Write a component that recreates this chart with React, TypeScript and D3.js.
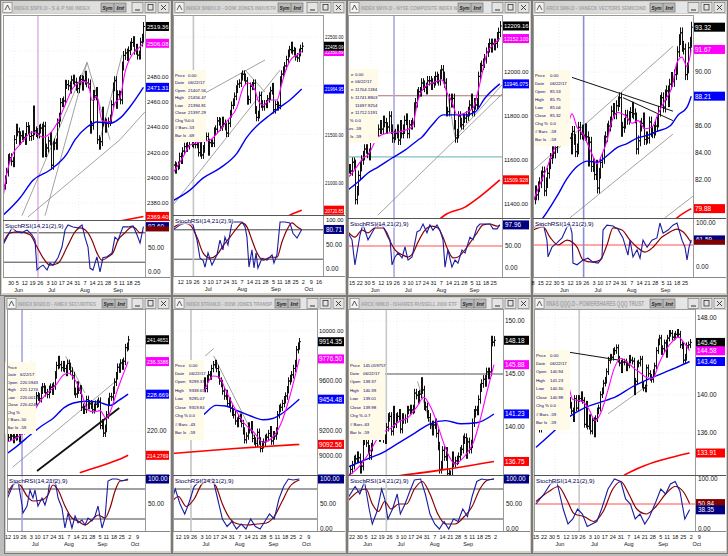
import React from "react";
import * as d3 from "d3";

type P = [number, number];

// ---------------- calendar (trading-day index, 0 = 22 May 2017) ----------------
const weekTickDays = [-10, -5, 0, 5, 9, 14, 19, 24, 29, 33, 38, 43, 48, 53, 58, 63, 68, 73, 77, 82, 87, 92, 97, 102];
const weekTickLabels = ["8", "15", "22", "30", "5", "12", "19", "26", "3", "10", "17", "24", "31", "7", "14", "21", "28", "5", "11", "18", "25", "2", "9", "16"];
const monthDays = [10, 31.5, 53, 74.5, 95.5];
const monthLabels = ["Jun", "Jul", "Aug", "Sep", "Oct"];

// ---------------- S&P 500 ----------------
const spxCloses = [2394.0, 2398.4, 2404.4, 2415.1, 2415.8, 2412.9, 2411.8,
  2430.1, 2439.1, 2436.1, 2429.3, 2433.1, 2433.8, 2431.8, 2429.4, 2440.4, 2437.9, 2432.5, 2433.2, 2453.5, 2437.0, 2435.6, 2434.5, 2438.3, 2439.1, 2419.4, 2440.7, 2419.7, 2423.4,
  2429.0, 2432.5, 2409.8, 2425.2, 2427.4, 2425.5, 2443.3, 2447.8, 2459.3, 2459.1, 2460.6, 2473.8, 2473.5, 2472.5, 2469.9, 2477.1, 2477.8, 2475.4, 2472.1, 2470.3,
  2476.4, 2477.6, 2472.2, 2476.8, 2480.9, 2474.9, 2474.0, 2438.2, 2441.3, 2465.8, 2464.6, 2468.1, 2430.0, 2425.6, 2428.4, 2452.5, 2444.0, 2439.0, 2443.1, 2444.2, 2446.3, 2457.6, 2471.7,
  2476.6, 2457.9, 2465.5, 2465.1, 2461.4, 2488.1, 2496.5, 2498.4, 2495.6, 2500.2, 2503.9, 2506.7, 2508.2, 2500.6, 2502.2, 2496.7, 2496.8, 2507.0, 2510.1, 2519.36];
const spxMag: P[] = [[-0.2, 2384], [2.4, 2404], [6.3, 2419], [10.8, 2426], [19.3, 2436], [25.8, 2432], [30.3, 2435], [34.9, 2443], [41.4, 2461], [45.3, 2471], [51.8, 2476], [55, 2475], [57.6, 2461], [60.8, 2464], [64.1, 2445], [69.3, 2444], [72.5, 2459], [75.8, 2463], [79, 2483], [83.6, 2497], [86.8, 2501], [91, 2506.08]];
const spxBlue: P[] = [[-0.5, 2370], [10.8, 2384], [19.3, 2398], [30.3, 2406], [41.4, 2419], [46.6, 2430], [54.4, 2440], [60.8, 2444], [69.3, 2443], [75.8, 2447], [82.3, 2456], [91, 2471.31]];
const spxRed: P[] = [[60, 2362], [91, 2369.4]];
const spxK: P[] = [[-0.2, 55], [2.4, 71], [5.6, 90], [8.9, 82], [12.1, 80], [15.4, 86], [18.6, 76], [20.6, 65], [21.9, 4], [23.8, 10], [25.8, 14], [28.4, 4], [30.3, 18], [32.3, 14], [35.5, 29], [38.1, 51], [40.1, 86], [42, 96], [45.3, 92], [48.5, 90], [51.1, 96], [53, 71], [55, 51], [56.3, 8], [58.2, 4], [60.8, 31], [62.8, 0], [64.7, 29], [67.3, 31], [70.6, 39], [72.5, 71], [74.5, 65], [77.7, 92], [81, 92], [84.3, 94], [86.8, 76], [88.8, 59], [91, 92.6]];
const spxD: P[] = [[-0.2, 59], [4.4, 80], [10.8, 82], [17.3, 76], [21.9, 51], [25.8, 29], [30.3, 14], [35.5, 18], [41.4, 51], [46.6, 82], [49.8, 90], [54.4, 82], [57.6, 65], [60.8, 39], [64.1, 24], [68, 31], [71.2, 39], [74.5, 65], [79, 80], [83.6, 92], [85.5, 90], [88.8, 80], [91, 82]];

// ---------------- Dow Jones Industrials ----------------
const djiCloses = [21184, 21136, 21173, 21182, 21272, 21235, 21328, 21374, 21360, 21384, 21528, 21467, 21410, 21397, 21395, 21409, 21311, 21454, 21288, 21350,
  21479, 21478, 21320, 21414, 21409, 21409, 21532, 21553, 21638, 21630, 21575, 21641, 21612, 21580, 21513, 21613, 21711, 21797, 21830, 21891,
  21964, 22016, 22026, 22092, 22118, 22085, 22048, 21844, 21858, 21993, 21998, 22024, 21750, 21674, 21703, 21899, 21812, 21783, 21813, 21808, 21865, 21892, 21948,
  21988, 21753, 21807, 21784, 21797, 22057, 22118, 22158, 22203, 22268, 22331, 22370, 22412, 22359, 22349, 22296, 22284, 22341, 22381, 22405.09];
const djiMag: P[] = [[9, 21102], [15.4, 21267], [19.8, 21390], [26, 21420], [32.6, 21441], [38.9, 21544], [44, 21647], [49.8, 21780], [53.6, 21976], [56.8, 22027], [61.2, 21955], [63.1, 21853], [66.3, 21801], [70.8, 21853], [75.2, 21853], [78.4, 22027], [81.6, 22192], [84.8, 22284], [88, 22315], [91, 22350.89]];
const djiBlue: P[] = [[8, 20810], [19.8, 20927], [28.1, 21050], [38.9, 21153], [49.8, 21307], [56.1, 21472], [64.4, 21616], [70.8, 21698], [77.2, 21780], [83.5, 21853], [91, 21964.95]];
const djiRed: P[] = [[80, 20640], [86, 20690], [91, 20720.85]];
const djiK: P[] = [[9, 80], [13.5, 90], [18.6, 96], [21.7, 90], [24.3, 59], [26.2, 22], [28.1, 18], [29.4, 4], [31.3, 33], [33.8, 8], [37, 29], [38.9, 59], [40.8, 39], [42.1, 65], [44, 49], [46.6, 96], [49.8, 96], [53, 96], [54.9, 86], [56.1, 65], [57.4, 4], [59.3, 39], [60.6, 2], [61.9, 33], [63.1, 2], [65.7, 22], [68.9, 18], [72.1, 29], [73.3, 12], [75.2, 29], [77.2, 96], [80.3, 96], [83.5, 94], [85.4, 73], [88, 63], [91, 80.71]];
const djiD: P[] = [[9, 84], [15.4, 94], [19.8, 90], [24.3, 65], [28.1, 33], [32.6, 22], [37, 29], [40.8, 47], [45.3, 65], [49.8, 84], [53, 94], [56.1, 86], [59.3, 59], [62.5, 33], [66.3, 18], [70.8, 24], [75.2, 24], [78.4, 55], [81.6, 80], [84.8, 94], [88, 86], [91, 80]];

// ---------------- NYSE Composite ----------------
const nyaCloses = [11560, 11550, 11590, 11580, 11420, 11460, 11530,
  11570, 11600, 11620, 11650, 11650, 11630, 11620,
  11700, 11740, 11730, 11720, 11730, 11740, 11760, 11740, 11780, 11770, 11740, 11750, 11800, 11740, 11700, 11712, 11720, 11740, 11690, 11760, 11720, 11740,
  11780, 11790, 11720, 11760, 11760, 11770, 11840, 11860, 11900, 11910, 11910, 11950, 11940, 11930, 11920, 11960, 11960, 11940, 11950, 11960,
  11980, 11970, 11960, 11990, 12010, 11980, 11950, 11820, 11820, 11880, 11860, 11880, 11760, 11700, 11720, 11800, 11770, 11760, 11790, 11790, 11800, 11820, 11850,
  11880, 11820, 11860, 11850, 11860, 11980, 12020, 12030, 12040, 12060, 12090, 12110, 12130, 12110, 12130, 12120, 12130, 12160, 12180, 12209.16];
const nyaMag: P[] = [[-7.6, 11520], [-4.4, 11545], [-1.1, 11577], [2.1, 11609], [5.4, 11623], [11.9, 11705], [18.4, 11723], [24.9, 11727], [34, 11750], [37.9, 11873], [42.4, 11932], [48.9, 11955], [53.4, 11964], [56.7, 11905], [59.9, 11864], [63.2, 11805], [68.4, 11814], [73.6, 11836], [78.1, 11950], [82.7, 12086], [86.6, 12123], [91, 12152.1]];
const nyaBlue: P[] = [[-7.6, 11464], [-1.1, 11500], [5.4, 11541], [11.9, 11568], [21, 11609], [29.4, 11645], [37.9, 11691], [40.5, 11705], [47, 11759], [54.1, 11805], [61.9, 11805], [68.4, 11805], [74.9, 11818], [81.4, 11882], [91, 11946.075]];
const nyaRed: P[] = [[50, 11320], [55.4, 11350], [68.4, 11386], [76.8, 11427], [91, 11509.928]];
const nyaK: P[] = [[-7.6, 80], [-5, 64], [-3.1, 7], [0.2, 75], [2.1, 100], [5.4, 64], [8, 80], [11.2, 100], [14.5, 98], [17.7, 80], [19.7, 64], [21, 7], [22.9, 25], [24.9, 34], [27.5, 23], [29.4, 48], [31.4, 18], [34, 25], [37.2, 82], [39.2, 86], [41.1, 100], [43.7, 80], [45.6, 98], [47.6, 86], [50.2, 98], [52.1, 86], [54.1, 64], [55.4, 2], [57.3, 41], [59.9, 2], [61.9, 18], [63.8, 11], [66.4, 41], [68.4, 34], [71.6, 70], [73.6, 64], [76.2, 93], [78.1, 100], [81.4, 100], [84.6, 100], [86.6, 89], [89.2, 89], [91, 97.96]];
const nyaD: P[] = [[-7.6, 82], [-3.1, 70], [1.5, 86], [5.4, 80], [9.9, 91], [15.1, 91], [18.4, 70], [22.9, 41], [27.5, 30], [31.4, 25], [34.6, 34], [37.9, 59], [42.4, 86], [47, 95], [50.8, 91], [54.1, 70], [57.3, 41], [60.6, 23], [63.8, 25], [67.1, 36], [71.6, 57], [76.2, 80], [80.1, 98], [84.6, 100], [89.2, 95], [91, 98]];

// ---------------- VanEck Semiconductor SMH ----------------
const smhCloses = [80.6, 81.2, 80.9, 81.5, 81.8, 82.3, 82.6, 81.2, 81.8, 82.5,
  83.2, 83.6, 84.1, 84.0, 84.4, 84.9, 85.1,
  86.6, 88.0, 88.6, 88.9, 89.2, 89.4, 85.1, 84.3, 85.6, 85.0, 84.1, 84.3, 85.9, 85.4, 85.7, 85.32, 85.8, 85.2, 83.4, 84.8, 83.0, 83.2,
  82.4, 83.1, 81.4, 82.5, 83.3, 83.6, 84.9, 85.2, 85.8, 86.0, 86.3, 87.1, 87.3, 86.9, 87.5, 87.8, 88.1, 85.6, 85.9, 86.2,
  86.8, 86.5, 86.7, 87.0, 87.4, 86.9, 86.6, 84.3, 84.9, 86.0, 86.2, 86.6, 85.0, 85.2, 85.1, 86.3, 85.6, 85.5, 85.7, 86.0, 86.3, 87.1, 87.9,
  88.1, 87.4, 88.3, 88.6, 87.8, 89.1, 89.6, 89.3, 89.8, 90.2, 91.5, 92.4, 92.9, 91.9, 91.7, 89.8, 90.3, 91.8, 92.2, 93.32];
const smhMag: P[] = [[-10, 80.4], [-5.5, 81.7], [-1.1, 82.9], [2.8, 84.1], [6, 84.9], [11.7, 85.9], [14.9, 86.9], [18.1, 85.9], [21.9, 85.4], [27.7, 83.9], [30.8, 83.2], [34, 83.9], [37.2, 84.9], [40.4, 86.4], [44.2, 87.0], [48.7, 86.8], [53.2, 86.2], [57, 86.4], [61.5, 85.8], [65.9, 85.9], [69.8, 86.9], [74.2, 87.9], [78.7, 88.9], [81.9, 90.7], [85.1, 91.1], [88.3, 90.4], [91, 91.67]];
const smhBlue: P[] = [[-5, 79.0], [-3.6, 79.2], [5.3, 80.8], [11.7, 82.1], [18.1, 83.0], [25.1, 83.4], [30.8, 83.3], [37.2, 83.8], [43.6, 84.4], [50, 84.7], [56.4, 85.1], [62.8, 85.3], [69.1, 85.6], [77.4, 86.0], [82.5, 86.8], [88.3, 87.4], [91, 88.21]];
const smhRed: P[] = [[79, 78.9], [81.9, 79.2], [91, 79.88]];
const smhK: P[] = [[-10, 89], [-6.8, 95], [-3.6, 100], [-1.1, 61], [-0.4, 23], [2.1, 45], [5.3, 55], [8.5, 66], [11.7, 91], [13.6, 95], [14.9, 77], [15.5, 9], [18.1, 5], [21.9, 16], [25.1, 20], [28.3, 11], [31.5, 9], [34, 20], [34.7, 84], [37.2, 95], [41.1, 93], [44.2, 86], [47.4, 66], [50.6, 27], [51.9, 61], [53.8, 23], [56.4, 39], [58.3, 20], [60.2, 61], [62.8, 45], [65.9, 61], [69.1, 66], [71, 100], [73, 77], [76.2, 84], [79.3, 95], [81.9, 100], [85.1, 61], [87, 45], [88.3, 16], [89.6, 45], [91, 61.59]];
const smhD: P[] = [[-10, 84], [-3.6, 91], [0.8, 68], [6, 50], [11.7, 61], [18.1, 45], [21.9, 16], [27.7, 11], [32.8, 16], [37.2, 50], [41.1, 89], [46.8, 84], [51.9, 61], [56.4, 45], [61.5, 34], [66.6, 45], [72.3, 68], [76.2, 77], [81.9, 86], [85.7, 80], [91, 55]];

// ---------------- AMEX Securities Broker/Dealer XBD ----------------
const xbdCloses = [218.5, 219.2, 218.8, 218.0, 218.6, 219.8, 218.7, 218.2, 220.4, 220.1, 220.9, 221.5, 224.6, 226.8, 227.3,
  228.4, 228.9, 227.1, 228.3, 228.0, 227.6, 229.6, 230.4, 229.8, 229.0, 228.6, 229.8, 230.3, 229.4, 230.6, 233.2, 235.4, 236.8, 235.6, 234.9,
  235.6, 234.7, 233.8, 235.9, 235.2, 234.1, 233.0, 229.3, 228.7, 230.8, 229.6, 229.9, 225.6, 224.9, 225.1, 227.4, 226.0, 226.4, 226.1, 225.0, 225.6, 226.3, 226.5,
  227.0, 221.3, 221.9, 219.5, 220.6, 223.8, 226.9, 228.1, 228.0, 229.6, 231.5, 233.0, 235.0, 234.6, 236.0, 235.3, 236.4, 239.6, 239.9, 241.4651];
const xbdMag: P[] = [[13, 217.3], [20, 218.5], [26, 220.5], [32, 225.5], [38, 228.5], [44, 230.5], [50, 233.3], [53, 233.6], [57, 232], [61, 229], [65, 225], [69, 224.5], [73, 224.8], [77, 223], [80, 225], [84, 229.5], [88, 233.5], [91, 236.3386]];
const xbdBlue: P[] = [[13.4, 214.7], [20, 216.5], [28, 219], [36, 221.3], [43, 223], [50, 225.5], [56, 226.6], [64, 227], [72, 226.8], [79.4, 226], [85, 227.2], [91, 228.669]];
const xbdRed: P[] = [[60, 210.2], [63.4, 210.6], [72, 211.6], [80, 212.6], [86, 213.4], [91, 214.2769]];
const xbdK: P[] = [[13.4, 60], [17.2, 88], [20.4, 96], [23, 48], [23.6, 32], [26.2, 46], [28.1, 78], [30, 62], [31.3, 78], [33.2, 46], [35.8, 62], [37.7, 48], [39.6, 68], [40.9, 98], [44.1, 98], [46.1, 62], [48.6, 42], [50.5, 2], [52.5, 32], [55, 2], [57, 26], [58.9, 12], [61.4, 18], [63.4, 8], [65.3, 22], [67.8, 16], [69.8, 26], [71.7, 46], [74.3, 2], [76.2, 22], [78.1, 96], [80.7, 100], [83.9, 100], [87.1, 96], [91, 100]];
const xbdD: P[] = [[13.4, 68], [18.5, 92], [21.7, 88], [26.2, 66], [30, 56], [35.8, 58], [39.6, 68], [42.8, 88], [46.1, 78], [50.5, 46], [55, 22], [58.9, 16], [63.4, 8], [67.8, 18], [71.7, 28], [76.2, 22], [79.4, 42], [82.6, 76], [85.8, 96], [91, 98]];

// ---------------- Dow Jones Transports ----------------
const tranCloses = [9200, 9180, 9230, 9260, 9300, 9280, 9330, 9300, 9250, 9270, 9380, 9330, 9290, 9319.84, 9340, 9360, 9330, 9420, 9460, 9480,
  9560, 9600, 9540, 9620, 9650, 9640, 9700, 9730, 9740, 9700, 9650, 9600, 9580, 9520, 9480, 9500, 9420, 9440, 9380, 9350,
  9330, 9280, 9260, 9300, 9310, 9260, 9200, 9130, 9160, 9240, 9210, 9250, 9140, 9120, 9100, 9190, 9120, 9060, 9090, 9110, 9140, 9150, 9180,
  9210, 9120, 9170, 9160, 9200, 9330, 9380, 9390, 9420, 9450, 9480, 9530, 9600, 9620, 9650, 9700, 9740, 9850, 9880, 9914.35];
const tranMag: P[] = [[9, 9230], [20, 9290], [29, 9480], [36, 9640], [40, 9630], [44, 9530], [50, 9380], [56, 9260], [62, 9190], [68, 9110], [74, 9150], [80, 9280], [85, 9480], [91, 9776.5]];
const tranBlue: P[] = [[10, 9200], [22, 9250], [30, 9330], [38, 9405], [44, 9400], [52, 9360], [60, 9320], [68, 9290], [74, 9300], [80, 9340], [86, 9400], [91, 9454.48]];
const tranRed: P[] = [[10, 9020], [50, 9060], [91, 9092.56]];
const tranK: P[] = [[10, 60], [12, 80], [15, 50], [18, 30], [21, 55], [24, 85], [27, 95], [30, 100], [33, 98], [36, 100], [39, 60], [42, 20], [45, 5], [48, 15], [51, 0], [54, 10], [57, 0], [60, 20], [63, 5], [66, 0], [69, 15], [72, 30], [75, 20], [78, 60], [81, 85], [84, 100], [87, 98], [91, 100]];
const tranD: P[] = [[10, 55], [14, 65], [19, 45], [24, 60], [29, 90], [34, 98], [38, 85], [42, 50], [47, 20], [52, 10], [58, 8], [64, 10], [70, 12], [75, 25], [80, 55], [85, 85], [91, 98]];

// ---------------- iShares Russell 2000 IWM ----------------
const iwmCloses = [135.2, 136.0,
  136.4, 136.9, 137.0, 137.3, 137.1, 136.0, 136.3,
  138.7, 139.1, 138.5, 137.9, 137.3, 138.1, 140.4, 139.6, 140.1, 139.5, 139.0, 139.4, 140.5, 138.9, 138.8, 139.98, 140.9, 141.0, 139.6, 141.6, 140.3, 140.9,
  141.0, 141.3, 139.8, 140.9, 140.7, 140.8, 141.6, 141.6, 141.7, 141.6, 141.7, 143.2, 143.0, 142.6, 143.1, 144.3, 143.5, 142.0, 141.9, 141.2,
  140.9, 140.2, 139.6, 140.2, 140.4, 139.4, 138.2, 136.0, 136.4, 137.8, 137.2, 137.7, 135.6, 135.5, 135.3, 137.3, 136.6, 136.8, 136.9, 137.2, 137.7, 137.9, 138.8,
  139.0, 137.4, 138.6, 137.9, 138.4, 140.4, 141.3, 141.6, 141.5, 142.6, 143.7, 144.1, 144.5, 144.2, 145.2, 144.9, 145.2, 148.2, 148.0, 148.18];
const iwmMag: P[] = [[-3, 135.3], [6, 136.5], [12, 137.8], [18, 139.3], [24, 139.8], [30, 140.5], [36, 140.9], [42, 142.0], [46, 142.8], [50, 142.0], [54, 140.6], [58, 138.8], [62, 137.3], [66, 136.5], [70, 136.9], [74, 137.6], [78, 138.6], [82, 140.6], [86, 143.0], [91, 145.88]];
const iwmBlue: P[] = [[-3, 136.2], [10, 137.0], [20, 137.6], [30, 138.5], [40, 139.4], [50, 140.3], [60, 140.6], [70, 140.3], [80, 140.4], [91, 141.23]];
const iwmRed: P[] = [[30, 135.4], [60, 136.0], [91, 136.75]];
const iwmK: P[] = [[-3, 60], [2, 85], [5, 70], [8, 95], [11, 40], [13, 10], [16, 35], [19, 80], [21, 60], [23, 20], [26, 40], [29, 70], [31, 30], [34, 50], [37, 75], [40, 98], [44, 100], [47, 70], [50, 30], [53, 10], [56, 0], [59, 15], [62, 0], [65, 20], [68, 15], [71, 40], [74, 25], [77, 65], [80, 95], [83, 100], [87, 98], [91, 100]];
const iwmD: P[] = [[-3, 55], [4, 75], [9, 80], [13, 50], [17, 35], [21, 55], [25, 40], [30, 50], [35, 50], [40, 80], [45, 95], [50, 70], [55, 30], [60, 10], [66, 10], [72, 25], [77, 45], [82, 80], [87, 98], [91, 100]];

// ---------------- PowerShares QQQ ----------------
const qqqCloses = [139.5, 139.9, 136.4, 137.6, 138.4,
  139.6, 139.8, 140.6, 141.7, 141.9, 141.8, 141.2,
  142.3, 143.6, 143.5, 142.9, 143.5, 143.7, 138.9, 138.1, 139.4, 138.9, 138.3, 137.5, 139.6, 138.6, 139.6, 139.6, 140.0, 139.4, 136.9, 139.0, 136.7, 137.6,
  136.2, 137.3, 135.9, 137.5, 138.3, 138.6, 140.0, 140.4, 141.2, 141.5, 142.4, 143.6, 143.9, 143.9, 144.5, 144.6, 144.9, 143.7, 143.3, 142.6,
  143.4, 143.4, 142.8, 143.1, 143.8, 143.6, 143.5, 140.3, 141.4, 143.2, 143.3, 143.7, 141.0, 140.7, 140.6, 142.8, 142.2, 141.8, 141.6, 142.3, 143.0, 144.6, 145.5,
  145.9, 144.5, 144.8, 145.4, 144.2, 145.9, 146.4, 146.4, 146.0, 146.1, 146.3, 146.5, 146.3, 145.2, 145.1, 143.6, 143.9, 145.1, 145.2, 145.45];
const qqqMag: P[] = [[-5, 139.6], [0, 139.0], [5, 140.5], [10, 142.5], [14, 141.8], [18, 139.5], [24, 139.3], [28, 138.5], [32, 137.3], [36, 138.3], [40, 140.5], [44, 142.8], [48, 143.8], [52, 143.4], [56, 142.8], [60, 142.3], [64, 141.8], [68, 141.7], [72, 143.3], [76, 144.6], [80, 145.5], [84, 146.0], [88, 145.3], [91, 144.58]];
const qqqBlue: P[] = [[-5, 134.5], [5, 136.0], [15, 137.6], [25, 138.6], [35, 139.2], [45, 139.8], [55, 140.8], [65, 141.6], [75, 142.3], [85, 143.0], [91, 143.46]];
const qqqRed: P[] = [[50, 131.6], [60, 132.4], [91, 133.91]];
const qqqK: P[] = [[-5, 50], [0, 70], [4, 90], [8, 95], [12, 40], [15, 10], [18, 20], [21, 40], [24, 30], [27, 5], [30, 10], [33, 15], [36, 40], [40, 80], [44, 100], [48, 95], [51, 60], [54, 50], [57, 20], [60, 30], [63, 10], [66, 25], [70, 55], [73, 80], [76, 70], [79, 90], [82, 95], [85, 75], [88, 20], [91, 38.35]];
const qqqD: P[] = [[-5, 55], [3, 75], [9, 85], [14, 60], [19, 30], [25, 25], [31, 15], [37, 35], [43, 80], [48, 95], [53, 70], [58, 40], [64, 30], [70, 45], [76, 70], [82, 85], [87, 75], [91, 50.84]];

// ---------------- panel configuration ----------------
interface Seg { a: P; b: P; color: string; w: number }
interface Box { v: number; text: string; fill: string; color?: string }
interface Info { x: number; y: number; w: number; h: number; vx: number; rows: string[][]; rightLabels?: boolean }
interface Cfg {
  id: string; title: string; titleW: number; symX: number;
  fx: number; fy: number; fw: number; fh: number;
  pl: number; pr: number; ar: number;
  pt: number; pb: number; sb: number;
  xPx: number; xIdx: number; k: number; tickMin: number; tickMax: number;
  yc: [number, number, number, number];
  s100: number; s0: number;
  start: number; closes: number[]; pad: number;
  mag: P[]; blue: P[]; red: P[];
  segs: Seg[]; hl: { v: number; color: string; from?: number }[];
  ticks: number[];
  boxes: Box[];
  sLines: { v: number; color: string }[];
  sTicks: number[];
  sk: P[]; sd: P[]; sBoxes: Box[];
  info?: Info;
  cursor: number; cursorColor: string;
}

const G = "#8a8a8a";
const gray = (a: P, b: P): Seg => ({ a, b, color: G, w: 0.8 });
const blk = (a: P, b: P, w = 1): Seg => ({ a, b, color: "#111", w });

const rowLabels = ["Price", "Date", "Open", "High", "Low", "Close", "Chg %", "# Bars", "Bar Ix"];
const rows = (vals: string[], labels = rowLabels) => labels.map((l, i) => [l, vals[i]]);

const panels: Cfg[] = [
  {
    id: "spx", title: "INDEX $SPX.D - S & P 500 INDEX", titleW: 76, symX: 101,
    fx: 0, fy: 0, fw: 172, fh: 296, pl: 3, pr: 145, ar: 170, pt: 15, pb: 220, sb: 277,
    xPx: 11, xIdx: 5, k: 1.54, tickMin: 6, tickMax: 143, yc: [2500, 51, 2380, 203], s100: 223, s0: 272,
    start: 0, closes: spxCloses, pad: 3.5, mag: spxMag, blue: spxBlue, red: spxRed,
    segs: [gray([12.1, 2370], [54.4, 2491]), gray([27.1, 2370], [54.4, 2491]), gray([54.4, 2491], [69.3, 2430]), gray([16, 2369], [75.8, 2430]), gray([62.8, 2430], [77.1, 2497]), gray([75.8, 2430], [92, 2452])],
    hl: [], ticks: [2380, 2400, 2420, 2440, 2460, 2480, 2500],
    boxes: [{ v: 2519.36, text: "2519.36", fill: "#000" }, { v: 2506.08, text: "2506.08", fill: "#ff00ff" }, { v: 2471.31, text: "2471.31", fill: "#0000ff" }, { v: 2369.4, text: "2369.40", fill: "#ff0000" }],
    sLines: [{ v: 80, color: "#444" }, { v: 20, color: "#444" }], sTicks: [100, 50, 0],
    sk: spxK, sd: spxD, sBoxes: [{ v: 92.6, text: "92.60", fill: "#000080" }, { v: 84, text: "", fill: "#800000" }],
    cursor: 22.5, cursorColor: "#e2b4ec",
  },
  {
    id: "dji", title: "INDEX $INDU.D - DOW JONES INDUSTR", titleW: 90, symX: 278,
    fx: 172, fy: 0, fw: 175, fh: 296, pl: 173, pr: 323, ar: 345, pt: 15, pb: 215, sb: 276,
    xPx: 173, xIdx: 9, k: 1.57, tickMin: 174, tickMax: 321, yc: [22500, 37, 21000, 183], s100: 220, s0: 269,
    start: 9, closes: djiCloses, pad: 40, mag: djiMag, blue: djiBlue, red: djiRed,
    segs: [gray([29.4, 21924], [67.6, 22264]), gray([54.9, 22161], [67.6, 21935]), gray([9, 20773], [77.2, 22161])],
    hl: [], ticks: [21000, 21500, 22000, 22500],
    boxes: [{ v: 22350.89, text: "22350.89", fill: "#ff00ff" }, { v: 22405.09, text: "22405.09", fill: "#000" }, { v: 21964.95, text: "21964.95", fill: "#0000ff" }, { v: 20720.85, text: "20720.85", fill: "#ff0000" }],
    sLines: [{ v: 80, color: "#444" }, { v: 20, color: "#444" }], sTicks: [100, 50, 0],
    sk: djiK, sd: djiD, sBoxes: [{ v: 80.71, text: "80.71", fill: "#000080" }],
    info: { x: 173, y: 70, w: 33, h: 72, vx: 188, rows: rows(["0.00", "06/22/17", "21407.56", "21456.47", "21394.81", "21397.29", "0.0", "-53", "-69"]) },
    cursor: 22, cursorColor: "#c4c4c4",
  },
  {
    id: "nya", title: "INDEX $NYA.D - NYSE COMPOSITE INDEX N", titleW: 96, symX: 458,
    fx: 347, fy: 0, fw: 185, fh: 296, pl: 348, pr: 502, ar: 530, pt: 15, pb: 218, sb: 277,
    xPx: 352, xIdx: -5, k: 1.54, tickMin: 350, tickMax: 500, yc: [12000, 72, 11400, 204], s100: 224, s0: 268,
    start: -7, closes: nyaCloses, pad: 22, mag: nyaMag, blue: nyaBlue, red: nyaRed,
    segs: [gray([11.9, 11350], [92.4, 11900]), gray([61.9, 11705], [92.4, 11941]), gray([54.1, 12018], [61.9, 11705])],
    hl: [{ v: 11892, color: "#b07070" }, { v: 11614, color: "#60b0b0" }], ticks: [11400, 11600, 11800, 12000],
    boxes: [{ v: 12209.16, text: "12209.16", fill: "#000" }, { v: 12152.1, text: "12152.100", fill: "#ff00ff" }, { v: 11946.075, text: "11946.075", fill: "#0000ff" }, { v: 11509.928, text: "11509.928", fill: "#ff0000" }],
    sLines: [{ v: 50, color: "#ff5050" }], sTicks: [50, 0],
    sk: nyaK, sd: nyaD, sBoxes: [{ v: 97.96, text: "97.96", fill: "#000080" }],
    info: { x: 348, y: 69, w: 30, h: 74, vx: 355, rightLabels: true, rows: rows(["0.00", "06/22/17", "11704.1184", "11741.8803", "11697.9254", "11712.5191", "0.0", "-59", "-59"], ["e", "e", "n", "h", "", "e", "%", "ars", "Ix"]) },
    cursor: 22.3, cursorColor: "#a8a8e4",
  },
  {
    id: "smh", title: "ARCX SMH.D - VANECK VECTORS SEMICOND", titleW: 100, symX: 650,
    fx: 532, fy: 0, fw: 196, fh: 296, pl: 533, pr: 693, ar: 726, pt: 15, pb: 218, sb: 277,
    xPx: 533, xIdx: -10, k: 1.567, tickMin: 532, tickMax: 690, yc: [90, 72, 82, 180], s100: 223, s0: 267,
    start: -10, closes: smhCloses, pad: 0.4, mag: smhMag, blue: smhBlue, red: smhRed,
    segs: [blk([14.9, 89.6], [79.3, 87.1]), blk([47.4, 88.1], [79.3, 86.4]), gray([-11.9, 82.5], [79.3, 91.9]), gray([13.6, 79.2], [79.3, 85.4]), gray([74.2, 79.2], [92.1, 80.8])],
    hl: [], ticks: [80, 82, 84, 86, 88, 90, 92, 94],
    boxes: [{ v: 93.32, text: "93.32", fill: "#000" }, { v: 91.67, text: "91.67", fill: "#ff00ff" }, { v: 88.21, text: "88.21", fill: "#0000ff" }, { v: 79.88, text: "79.88", fill: "#ff0000" }],
    sLines: [{ v: 50, color: "#ff5050" }], sTicks: [100, 0],
    sk: smhK, sd: smhD, sBoxes: [{ v: 61.59, text: "61.59", fill: "#000080" }, { v: 52, text: "", fill: "#800000" }],
    info: { x: 533, y: 70, w: 37, h: 76, vx: 550, rows: rows(["0.00", "06/22/17", "85.53", "85.75", "85.04", "85.32", "0.0", "-59", "-59"]) },
    cursor: 22.3, cursorColor: "#8c8cd0",
  },
  {
    id: "xbd", title: "INDEX $XBD.D - AMEX SECURITIES", titleW: 78, symX: 102,
    fx: 4, fy: 296, fw: 168, fh: 258, pl: 7, pr: 145, ar: 170, pt: 309, pb: 475, sb: 531,
    xPx: 8, xIdx: 14, k: 1.56, tickMin: 7, tickMax: 140, yc: [240, 346, 220, 431], s100: 479, s0: 529,
    start: 14, closes: xbdCloses, pad: 0.9, mag: xbdMag, blue: xbdBlue, red: xbdRed,
    segs: [gray([17, 211.5], [84, 232]), blk([32.6, 210.6], [85.3, 225.4], 1.8), gray([51, 237.6], [63.4, 228.9])],
    hl: [], ticks: [220, 230, 240],
    boxes: [{ v: 241.4651, text: "241.4651", fill: "#000" }, { v: 236.3386, text: "236.3386", fill: "#ff00ff" }, { v: 228.669, text: "228.669", fill: "#0000ff" }, { v: 214.2769, text: "214.2769", fill: "#ff0000" }],
    sLines: [{ v: 80, color: "#444" }, { v: 20, color: "#444" }], sTicks: [50],
    sk: xbdK, sd: xbdD, sBoxes: [{ v: 100, text: "100.00", fill: "#000080" }],
    info: { x: 5, y: 362, w: 31, h: 72, vx: 20, rows: rows(["", "6/22/17", "220.5943", "221.1274", "220.0013", "220.4248", "", "-50", "-59"]) },
    cursor: 23, cursorColor: "#a4a4e4",
  },
  {
    id: "tran", title: "INDEX $TRAN.D - DOW JONES TRANSP", titleW: 86, symX: 275,
    fx: 172, fy: 296, fw: 175, fh: 258, pl: 173, pr: 317, ar: 345, pt: 309, pb: 475, sb: 531,
    xPx: 191, xIdx: 22, k: 1.57, tickMin: 174, tickMax: 315, yc: [10000, 331, 9000, 456], s100: 479, s0: 529,
    start: 9, closes: tranCloses, pad: 30, mag: tranMag, blue: tranBlue, red: tranRed,
    segs: [gray([31, 9800], [36.5, 9860]), gray([36.5, 9800], [66, 9060])],
    hl: [], ticks: [9000, 9200, 9400, 9600, 9800, 10000],
    boxes: [{ v: 9914.35, text: "9914.35", fill: "#000" }, { v: 9776.5, text: "9776.50", fill: "#ff00ff" }, { v: 9454.48, text: "9454.48", fill: "#0000ff" }, { v: 9092.56, text: "9092.56", fill: "#ff0000" }],
    sLines: [{ v: 80, color: "#444" }, { v: 20, color: "#444" }], sTicks: [50, 0],
    sk: tranK, sd: tranD, sBoxes: [{ v: 100, text: "100.00", fill: "#000080" }],
    info: { x: 173, y: 360, w: 31, h: 80, vx: 189, rows: rows(["0.00", "06/22/17", "9299.37", "9338.65", "9295.07", "9319.84", "0.0", "-43", "-59"]) },
    cursor: 22, cursorColor: "#c4c4c4",
  },
  {
    id: "iwm", title: "ARCX IWM.D - ISHARES RUSSELL 2000 ETF", titleW: 96, symX: 461,
    fx: 347, fy: 296, fw: 185, fh: 258, pl: 348, pr: 503, ar: 530, pt: 309, pb: 475, sb: 531,
    xPx: 352, xIdx: 0, k: 1.56, tickMin: 350, tickMax: 500, yc: [150, 321, 145, 374], s100: 479, s0: 529,
    start: -2, closes: iwmCloses, pad: 0.4, mag: iwmMag, blue: iwmBlue, red: iwmRed,
    segs: [gray([42, 144.3], [52, 139.5])],
    hl: [{ v: 145.0, color: "#555", from: 383 }], ticks: [135, 140, 145, 150],
    boxes: [{ v: 148.18, text: "148.18", fill: "#000" }, { v: 145.88, text: "145.88", fill: "#ff00ff" }, { v: 141.23, text: "141.23", fill: "#0000ff" }, { v: 136.75, text: "136.75", fill: "#ff0000" }],
    sLines: [{ v: 80, color: "#444" }, { v: 20, color: "#444" }], sTicks: [50, 0],
    sk: iwmK, sd: iwmD, sBoxes: [{ v: 100, text: "100.00", fill: "#000080" }],
    info: { x: 348, y: 360, w: 37, h: 80, vx: 363, rows: rows(["145.059757", "06/22/17", "139.37", "140.39", "139.01", "139.98", "-0.7", "-63", "-59"]) },
    cursor: 22, cursorColor: "#c8c8c8",
  },
  {
    id: "qqq", title: "XNAS QQQ.D - POWERSHARES QQQ TRUST", titleW: 98, symX: 650,
    fx: 532, fy: 296, fw: 196, fh: 258, pl: 534, pr: 695, ar: 726, pt: 309, pb: 475, sb: 531,
    xPx: 536, xIdx: -5, k: 1.6, tickMin: 535, tickMax: 702, yc: [148, 318, 136, 433], s100: 479, s0: 529,
    start: -5, closes: qqqCloses, pad: 0.35, mag: qqqMag, blue: qqqBlue, red: qqqRed,
    segs: [blk([13, 144.5], [47, 143.6]), gray([40, 138], [65, 141])],
    hl: [], ticks: [136, 140, 144, 148],
    boxes: [{ v: 145.45, text: "145.45", fill: "#000" }, { v: 144.58, text: "144.58", fill: "#ff00ff" }, { v: 143.46, text: "143.46", fill: "#0000ff" }, { v: 133.91, text: "133.91", fill: "#ff0000" }],
    sLines: [{ v: 50, color: "#ff5050" }], sTicks: [100, 0],
    sk: qqqK, sd: qqqD, sBoxes: [{ v: 50.84, text: "50.84", fill: "#800000" }, { v: 38.35, text: "38.35", fill: "#000080" }],
    info: { x: 534, y: 350, w: 36, h: 80, vx: 550, rows: rows(["0.00", "06/22/17", "140.94", "141.23", "140.30", "140.98", "0.0", "-59", "-59"]) },
    cursor: 22, cursorColor: "#c8c8c8",
  },
];

const FONT = "'Liberation Sans', Arial, Helvetica, sans-serif";

// approximate rendered width of a numeric label
const numW = (s: string, fs: number) => s.split("").reduce((a, ch) => a + (ch === "." ? 0.278 : 0.556), 0) * fs;

function Label({ x, y, text, fs, avail, fill }: { x: number; y: number; text: string; fs: number; avail: number; fill: string }) {
  const w = numW(text, fs);
  return w > avail
    ? <text x={x} y={y} fill={fill} fontSize={fs * avail / w}>{text}</text>
    : <text x={x} y={y} fill={fill}>{text}</text>;
}

function Window({ c }: { c: Cfg }) {
  const x = d3.scaleLinear().domain([c.xIdx, c.xIdx + 10]).range([c.xPx, c.xPx + c.k * 10]);
  const y = d3.scaleLinear().domain([c.yc[0], c.yc[2]]).range([c.yc[1], c.yc[3]]);
  const st = c.pb;
  const ys = d3.scaleLinear().domain([0, 100]).range([c.s0, c.s100]);
  const pLine = d3.line<P>().x(d => x(d[0])).y(d => y(d[1])).curve(d3.curveMonotoneX);
  const kLine = d3.line<P>().x(d => x(d[0])).y(d => ys(d[1]));
  const dLine = d3.line<P>().x(d => x(d[0])).y(d => ys(d[1])).curve(d3.curveMonotoneX);

  let barPath = "";
  c.closes.forEach((cl, i) => {
    const idx = c.start + i;
    const op = i > 0 ? c.closes[i - 1] : cl;
    const hi = Math.max(op, cl) + c.pad;
    const lo = Math.min(op, cl) - c.pad;
    const bx = Math.round(x(idx)) + 0.5;
    barPath += `M${bx},${y(hi).toFixed(1)}V${y(lo).toFixed(1)}M${bx - 1.5},${y(op).toFixed(1)}H${bx}M${bx},${y(cl).toFixed(1)}H${bx + 1.5}`;
  });

  const cx = x(c.cursor);
  const colW = c.ar - c.pr;
  const avail = colW - 3.5;
  const fs = 6.4;
  const boxYs = c.boxes.map(b => y(b.v));
  const sBoxYs = c.sBoxes.filter(b => b.text).map(b => ys(b.v));
  const ticksShown = c.ticks.filter(t => y(t) > c.pt + 3 && y(t) < c.pb - 3 && boxYs.every(by => Math.abs(by - y(t)) > 8.5));
  const sTicksShown = c.sTicks.filter(t => sBoxYs.every(by => Math.abs(by - ys(t)) > 8.5));
  const ticksX = weekTickDays.map((d, i) => ({ d, l: weekTickLabels[i] })).filter(t => x(t.d) >= c.tickMin && x(t.d) <= c.tickMax);
  const monthsX = monthDays.map((d, i) => ({ d, l: monthLabels[i] })).filter(t => x(t.d) >= c.pl + 5 && x(t.d) <= c.tickMax);
  const bx0 = c.symX;
  const titleFs = Math.min(6.4, c.titleW / (c.title.length * 0.6));
  const tBase = c.fy + 9.8;

  return (
    <g>
      <defs>
        <clipPath id={`pc-${c.id}`}><rect x={c.pl} y={c.pt} width={c.pr - c.pl} height={c.pb - c.pt} /></clipPath>
        <clipPath id={`sc-${c.id}`}><rect x={c.pl} y={st} width={c.pr - c.pl} height={c.sb - st} /></clipPath>
        <linearGradient id={`tg-${c.id}`} x1="0" x2="1" y1="0" y2="0">
          <stop offset="0" stopColor="#cfcfcf" />
          <stop offset="1" stopColor="#ececec" />
        </linearGradient>
      </defs>
      {/* window frame */}
      <rect x={c.fx + 0.5} y={c.fy + 0.5} width={c.fw - 1} height={c.fh - 1} fill="#d4d0c8" stroke="#7a7a7a" />
      <rect x={c.fx + 2} y={c.fy + 14} width={c.fw - 4} height={c.fh - 17} fill="#fff" />
      {/* title bar */}
      <rect x={c.fx + 2} y={c.fy + 2} width={c.fw - 4} height={11} fill={`url(#tg-${c.id})`} />
      <rect x={c.fx + 3} y={c.fy + 2.5} width={9} height={10} fill="#f4f4f4" stroke="#777" strokeWidth={0.6} />
      <path d={`M${c.fx + 5},${c.fy + 10}L${c.fx + 7.5},${c.fy + 5}L${c.fx + 10},${c.fy + 10}`} stroke="#333" fill="none" strokeWidth={0.8} />
      <g transform={`translate(0,${tBase}) scale(1,1.35) translate(0,${-tBase})`}>
        <text x={c.fx + 14} y={tBase} fontSize={titleFs} fontFamily={FONT} fontWeight="bold" fill="#a4a4a4" textLength={c.titleW} lengthAdjust="spacingAndGlyphs">{c.title}</text>
      </g>
      <rect x={bx0} y={c.fy + 3} width={25} height={9} fill="#b8b8b8" stroke="#666" strokeWidth={0.6} />
      <text x={bx0 + 1.5} y={c.fy + 10} fontSize={5.4} fontFamily={FONT} fontWeight="bold" fontStyle="italic" fill="#222" textLength={10} lengthAdjust="spacingAndGlyphs">Sym</text>
      <line x1={bx0 + 13} x2={bx0 + 13} y1={c.fy + 3} y2={c.fy + 12} stroke="#666" strokeWidth={0.6} />
      <text x={bx0 + 15.5} y={c.fy + 10} fontSize={5.4} fontFamily={FONT} fontWeight="bold" fontStyle="italic" fill="#222" textLength={7.5} lengthAdjust="spacingAndGlyphs">Int</text>
      {[40, 27, 14].map((o, i) => (
        <g key={i}>
          <rect x={c.fx + c.fw - o} y={c.fy + 2.5} width={11} height={10} fill="#e4e4e4" stroke="#666" strokeWidth={0.6} />
          {i === 0 && <line x1={c.fx + c.fw - o + 3} x2={c.fx + c.fw - o + 8} y1={c.fy + 10} y2={c.fy + 10} stroke="#333" />}
          {i === 1 && <rect x={c.fx + c.fw - o + 3} y={c.fy + 4.5} width={5} height={5.5} fill="none" stroke="#333" strokeWidth={0.8} />}
          {i === 2 && <path d={`M${c.fx + c.fw - o + 3},${c.fy + 5}L${c.fx + c.fw - o + 8},${c.fy + 10}M${c.fx + c.fw - o + 8},${c.fy + 5}L${c.fx + c.fw - o + 3},${c.fy + 10}`} stroke="#333" strokeWidth={0.9} />}
        </g>
      ))}

      {/* grid */}
      <g stroke="#e6e6e6" strokeWidth={0.6} strokeDasharray="1,2">
        {c.ticks.map(t => y(t) > c.pt && y(t) < c.pb ? <line key={t} x1={c.pl} x2={c.pr} y1={y(t)} y2={y(t)} /> : null)}
        {[7, 29, 49, 72].map(d => x(d) > c.pl && x(d) < c.pr ? <line key={d} x1={x(d)} x2={x(d)} y1={c.pt} y2={c.sb} /> : null)}
      </g>

      {/* price pane */}
      <g clipPath={`url(#pc-${c.id})`}>
        {c.hl.map((h, i) => <line key={i} x1={h.from ?? c.pl} x2={c.pr} y1={y(h.v)} y2={y(h.v)} stroke={h.color} strokeWidth={1} />)}
        <line x1={cx} x2={cx} y1={c.pt} y2={c.pb} stroke={c.cursorColor} strokeWidth={1.6} />
        {c.segs.map((s, i) => <line key={i} x1={x(s.a[0])} y1={y(s.a[1])} x2={x(s.b[0])} y2={y(s.b[1])} stroke={s.color} strokeWidth={s.w} />)}
        <path d={barPath} stroke="#111" strokeWidth={1} fill="none" />
        <path d={pLine(c.red) ?? ""} stroke="#ff0000" strokeWidth={1.6} fill="none" />
        <path d={pLine(c.blue) ?? ""} stroke="#0000ee" strokeWidth={1.4} fill="none" />
        <path d={pLine(c.mag) ?? ""} stroke="#ff00ff" strokeWidth={1.1} fill="none" />
      </g>
      {c.info && (
        <g>
          <rect x={c.info.x} y={c.info.y} width={c.info.w} height={c.info.h} fill="#fffbe8" />
          {c.info.rows.map((r, i) => {
            const ry = c.info!.y + 6.5 + i * (c.info!.h - 4) / 9;
            return (
              <g key={i} fontSize={4.3} fontFamily={FONT} fill="#000070">
                {r[0] && <text x={c.info!.rightLabels ? c.info!.vx - 1.5 : c.info!.x + 2} y={ry} textAnchor={c.info!.rightLabels ? "end" : "start"}>{r[0]}</text>}
                {r[1] && <text x={c.info!.vx} y={ry}>{r[1]}</text>}
              </g>
            );
          })}
        </g>
      )}

      {/* stoch pane */}
      <g clipPath={`url(#sc-${c.id})`}>
        {c.sLines.map((l, i) => <line key={i} x1={c.pl} x2={c.pr} y1={ys(l.v)} y2={ys(l.v)} stroke={l.color} strokeWidth={1} />)}
        <line x1={cx} x2={cx} y1={st} y2={c.sb} stroke={c.cursorColor} strokeWidth={1.6} />
        <path d={dLine(c.sd) ?? ""} stroke="#8b0000" strokeWidth={1.2} fill="none" />
        <path d={kLine(c.sk) ?? ""} stroke="#1c1ca0" strokeWidth={1.1} fill="none" />
        <rect x={c.pl + 1} y={st + 1.5} width={60} height={8} fill="#fff" opacity={0.7} />
      </g>
      <text x={c.pl + 2} y={st + 8} fontSize={6.2} fontFamily={FONT} fill="#000050">StochRSI(14,21(2),9)</text>

      {/* pane borders */}
      <rect x={c.pl + 0.5} y={c.pt + 0.5} width={c.pr - c.pl} height={c.sb - c.pt} fill="none" stroke="#9a9a9a" />
      <line x1={c.pl} x2={c.ar} y1={st + 0.5} y2={st + 0.5} stroke="#555" strokeWidth={1.2} />
      <line x1={c.pl} x2={c.ar} y1={c.sb + 0.5} y2={c.sb + 0.5} stroke="#888" />

      {/* price axis labels */}
      <g fontSize={fs} fontFamily={FONT}>
        {ticksShown.map(t => <Label key={t} x={c.pr + 2} y={y(t) + 2.3} text={t.toFixed(2)} fs={fs} avail={avail} fill="#111" />)}
        {c.boxes.map((b, i) => (
          <g key={i}>
            <rect x={c.pr + 1} y={y(b.v) - 4.5} width={colW - 2} height={9} fill={b.fill} />
            <Label x={c.pr + 2} y={y(b.v) + 2.4} text={b.text} fs={fs} avail={avail} fill={b.color ?? "#fff"} />
          </g>
        ))}
        {sTicksShown.map(t => <Label key={t} x={c.pr + 3} y={ys(t) + 2.3} text={t.toFixed(2)} fs={fs} avail={avail - 1} fill="#111" />)}
        {c.sBoxes.map((b, i) => (
          <g key={`s${i}`}>
            <rect x={c.pr + 1} y={ys(b.v) - 4.5} width={colW - 2} height={b.text ? 9 : 5} fill={b.fill} />
            {b.text && <Label x={c.pr + 3} y={ys(b.v) + 2.4} text={b.text} fs={fs} avail={avail - 1} fill="#fff" />}
          </g>
        ))}
      </g>

      {/* date axis */}
      <g fontSize={5.5} fontFamily={FONT} fill="#111" textAnchor="middle">
        {ticksX.map((t, i) => <text key={i} x={x(t.d)} y={c.sb + 7.5}>{t.l}</text>)}
        {monthsX.map((t, i) => <text key={`m${i}`} x={x(t.d)} y={c.sb + 15}>{t.l}</text>)}
      </g>
    </g>
  );
}

export default function App() {
  return (
    <svg width={728} height={556} viewBox="0 0 728 556" style={{ position: "absolute", left: 0, top: 0, display: "block", background: "#bdbdbd" }}>
      <rect x={0} y={0} width={728} height={556} fill="#bdbdbd" />
      {panels.map(p => <Window key={p.id} c={p} />)}
    </svg>
  );
}
